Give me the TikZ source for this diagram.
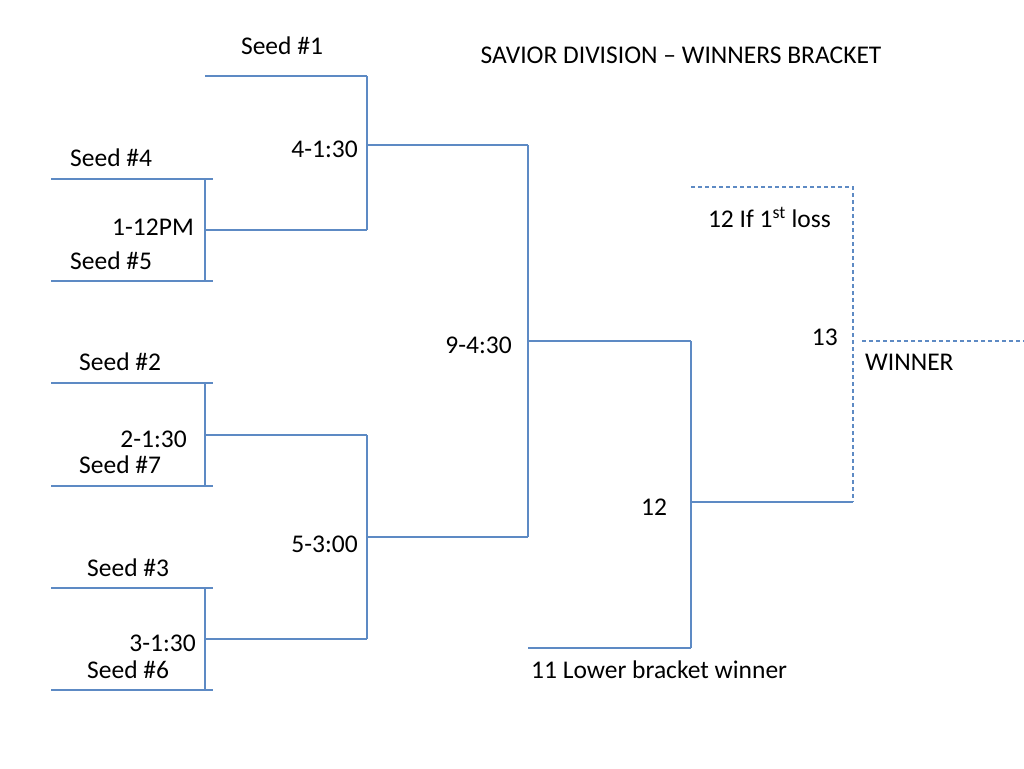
\documentclass[tikz,border=0pt]{standalone}
\usepackage{fontspec}
\setmainfont{Carlito}
\definecolor{lineblue}{HTML}{5D8AC4}
\begin{document}
\begin{tikzpicture}[x=1pt,y=-1pt,
  br/.style={draw=lineblue,line width=1.1pt},
  dsh/.style={draw=lineblue,line width=1.1pt,dash pattern=on 4pt off 3pt},
  lbl/.style={inner sep=0pt,font=\fontsize{25.5}{28}\selectfont,text=black}]
\useasboundingbox (0,0) rectangle (1024,768);
\fill[white] (0,0) rectangle (1024,768);
% coordinates
\coordinate (s1a) at (205,76);  \coordinate (s1b) at (367,76);
\coordinate (s4a) at (51,179);  \coordinate (s4b) at (213,179);
\coordinate (s5a) at (51,281);  \coordinate (s5b) at (213,281);
\coordinate (s2a) at (51,383);  \coordinate (s2b) at (213,383);
\coordinate (s7a) at (51,486);  \coordinate (s7b) at (213,486);
\coordinate (s3a) at (51,588);  \coordinate (s3b) at (213,588);
\coordinate (s6a) at (51,690);  \coordinate (s6b) at (213,690);
\coordinate (v1t) at (205,179); \coordinate (v1b) at (205,281);
\coordinate (v2t) at (205,383); \coordinate (v2b) at (205,486);
\coordinate (v3t) at (205,588); \coordinate (v3b) at (205,690);
\coordinate (g1a) at (205,230); \coordinate (g1b) at (367,230);
\coordinate (g2a) at (205,435); \coordinate (g2b) at (367,435);
\coordinate (g3a) at (205,639); \coordinate (g3b) at (367,639);
\coordinate (g4a) at (367,145); \coordinate (g4b) at (528,145);
\coordinate (g5a) at (367,537); \coordinate (g5b) at (528,537);
\coordinate (g9a) at (528,341); \coordinate (g9b) at (691,341);
\coordinate (l11a) at (528,648); \coordinate (l11b) at (691,648);
\coordinate (g12a) at (691,502); \coordinate (g12b) at (853,502);
\coordinate (d1a) at (691,187); \coordinate (d1b) at (853,187);
\coordinate (wa) at (862,341);  \coordinate (wb) at (1024,341);
% solid bracket lines
\draw[br] (s1a) -- (s1b);
\draw[br] (s4a) -- (s4b); \draw[br] (s5a) -- (s5b);
\draw[br] (s2a) -- (s2b); \draw[br] (s7a) -- (s7b);
\draw[br] (s3a) -- (s3b); \draw[br] (s6a) -- (s6b);
\draw[br] (v1t) -- (v1b); \draw[br] (v2t) -- (v2b); \draw[br] (v3t) -- (v3b);
\draw[br] (g1a) -- (g1b); \draw[br] (g2a) -- (g2b); \draw[br] (g3a) -- (g3b);
\draw[br] (s1b) -- (g1b); \draw[br] (g2b) -- (g3b);
\draw[br] (g4a) -- (g4b); \draw[br] (g5a) -- (g5b);
\draw[br] (g4b) -- (g5b);
\draw[br] (g9a) -- (g9b);
\draw[br] (l11a) -- (l11b);
\draw[br] (g9b) -- (l11b);
\draw[br] (g12a) -- (g12b);
% dashed
\draw[dsh] (d1a) -- (d1b) -- (g12b);
\draw[dsh] (wa) -- (wb);
% labels
\node[lbl] (t1) at (282,46) {Seed \#1};
\node[lbl] (title) at (681,55) {SAVIOR DIVISION – WINNERS BRACKET};
\node[lbl,anchor=east] (m4) at (358,149) {4-1:30};
\node[lbl,anchor=west] (t4) at (70,158) {Seed \#4};
\node[lbl,anchor=east] (m1) at (194,227) {1-12PM};
\node[lbl,anchor=west] (t5) at (70,261) {Seed \#5};
\node[lbl,anchor=west] (t2) at (79,362) {Seed \#2};
\node[lbl,anchor=east] (m2) at (187,439) {2-1:30};
\node[lbl,anchor=west] (t7) at (79,465) {Seed \#7};
\node[lbl,anchor=east] (m5) at (358,544) {5-3:00};
\node[lbl,anchor=west] (t3) at (87,568) {Seed \#3};
\node[lbl,anchor=east] (m3) at (196,643) {3-1:30};
\node[lbl,anchor=west] (t6) at (87,670) {Seed \#6};
\node[lbl,anchor=east] (m9) at (512,345) {9-4:30};
\node[lbl] (m12) at (654,507) {12};
\node[lbl,anchor=west] (t11) at (531,670) {11 Lower bracket winner};
\node[lbl,anchor=east] (t12) at (831,217) {12 If 1\textsuperscript{st} loss};
\node[lbl,anchor=east] (m13) at (838,337) {13};
\node[lbl,anchor=west] (tw) at (865,362) {WINNER};
\end{tikzpicture}
\end{document}
